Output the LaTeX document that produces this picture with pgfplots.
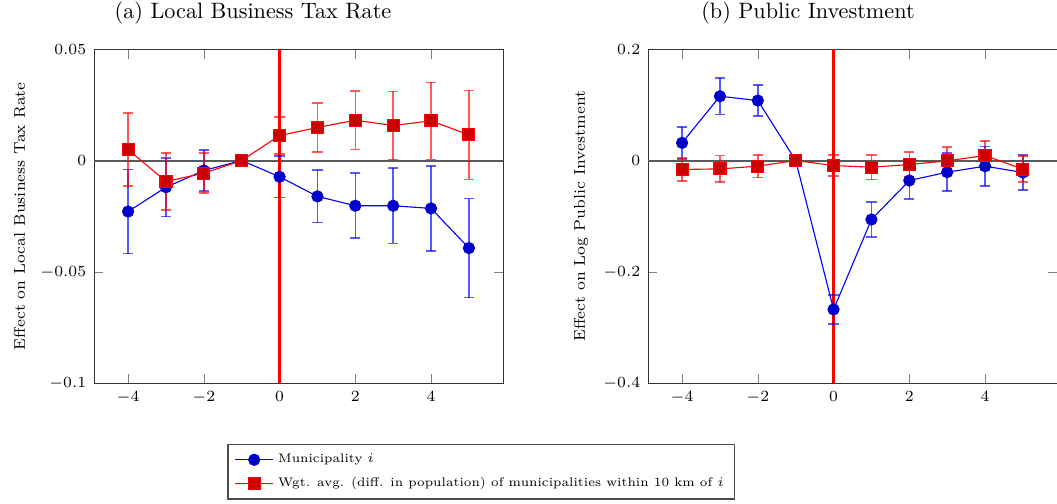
\documentclass[border=0pt]{standalone}
\usepackage{pgfplots}
\pgfplotsset{compat=1.18}
\begin{document}
\begin{tikzpicture}
\useasboundingbox (0pt,0pt) rectangle (475.65pt,226.8pt);
\pgfplotsset{
  evstyle/.style={
    scale only axis, width=184.05pt, height=150.4pt,
    xmin=-4.9, xmax=5.9,
    xtick={-4,-2,0,2,4},
    tick style={gray}, tick align=inside,
    axis line style={black!80},
    ticklabel style={font=\scriptsize},
    label style={font=\scriptsize},
    scaled y ticks=false,
    yticklabel style={/pgf/number format/fixed,/pgf/number format/precision=2},
    legend cell align=left,
  },
  blueser/.style={blue, line width=0.5pt, mark=*, mark size=2.5pt,
    mark options={fill=blue!80!black, draw=blue!80!black},
    error bars/.cd, y dir=both, y explicit,
    error bar style={opacity=0.65, line width=0.7pt},
    error mark options={rotate=90, mark size=2.3pt, opacity=0.65, line width=0.7pt}},
  redser/.style={red, line width=0.5pt, mark=square*, mark size=2.7pt,
    mark options={fill=red!80!black, draw=red},
    error bars/.cd, y dir=both, y explicit,
    error bar style={opacity=0.65, line width=0.7pt},
    error mark options={rotate=90, mark size=2.3pt, opacity=0.65, line width=0.7pt}},
}
\begin{axis}[evstyle, at={(42.3pt,54.3pt)}, anchor=south west,
  ymin=-0.1, ymax=0.05, ytick={-0.1,-0.05,0,0.05},
  ylabel={Effect on Local Business Tax Rate},
  legend style={at={(0.947,-0.265)}, anchor=center, font=\fontsize{5.6}{7}\selectfont, draw=black!70, line width=0.5pt, row sep=1.2pt},
]
\addplot[forget plot, draw=black!65, line width=0.9pt] coordinates {(-4.9,0) (5.9,0)};
\addplot[forget plot, draw=red, line width=1pt] coordinates {(0,-0.1) (0,0.05)};
\addplot[blueser] table[x=x,y=y,y error=e] {
x y e
-4 -0.0229 0.0189
-3 -0.0120 0.0132
-2 -0.0045 0.0092
-1 0 0
0 -0.0073 0.0093
1 -0.0161 0.0118
2 -0.0203 0.0146
3 -0.0203 0.0169
4 -0.0215 0.0190
5 -0.0393 0.0222
};
\addlegendentry{Municipality $i$}
\addplot[redser] table[x=x,y=y,y error=e] {
x y e
-4 0.0049 0.0163
-3 -0.0094 0.0127
-2 -0.0057 0.0090
-1 0 0
0 0.0112 0.0083
1 0.0148 0.0110
2 0.0181 0.0131
3 0.0157 0.0153
4 0.0178 0.0173
5 0.0115 0.0200
};
\addlegendentry{Wgt. avg. (diff. in population) of municipalities within 10 km of $i$}
\end{axis}
\begin{axis}[evstyle, at={(291.6pt,54.3pt)}, anchor=south west,
  ymin=-0.4, ymax=0.2, ytick={-0.4,-0.2,0,0.2},
  ylabel={Effect on Log Public Investment},
]
\addplot[forget plot, draw=black!65, line width=0.9pt] coordinates {(-4.9,0) (5.9,0)};
\addplot[forget plot, draw=red, line width=1pt] coordinates {(0,-0.4) (0,0.2)};
\addplot[blueser] table[x=x,y=y,y error=e] {
x y e
-4 0.0317 0.0287
-3 0.1154 0.0326
-2 0.1077 0.0278
-1 0 0
0 -0.2673 0.0260
1 -0.1059 0.0310
2 -0.0359 0.0330
3 -0.0209 0.0340
4 -0.0102 0.0355
5 -0.0215 0.0310
};
\addplot[redser] table[x=x,y=y,y error=e] {
x y e
-4 -0.0161 0.0205
-3 -0.0150 0.0240
-2 -0.0102 0.0204
-1 0 0
0 -0.0090 0.0186
1 -0.0120 0.0222
2 -0.0072 0.0228
3 -0.0006 0.0251
4 0.0090 0.0257
5 -0.0156 0.0234
};
\end{axis}
\node[font=\normalsize] at (113.85pt,221.1pt) {(a) Local Business Tax Rate};
\node[font=\normalsize] at (363.6pt,221.1pt) {(b) Public Investment};
\end{tikzpicture}
\end{document}
